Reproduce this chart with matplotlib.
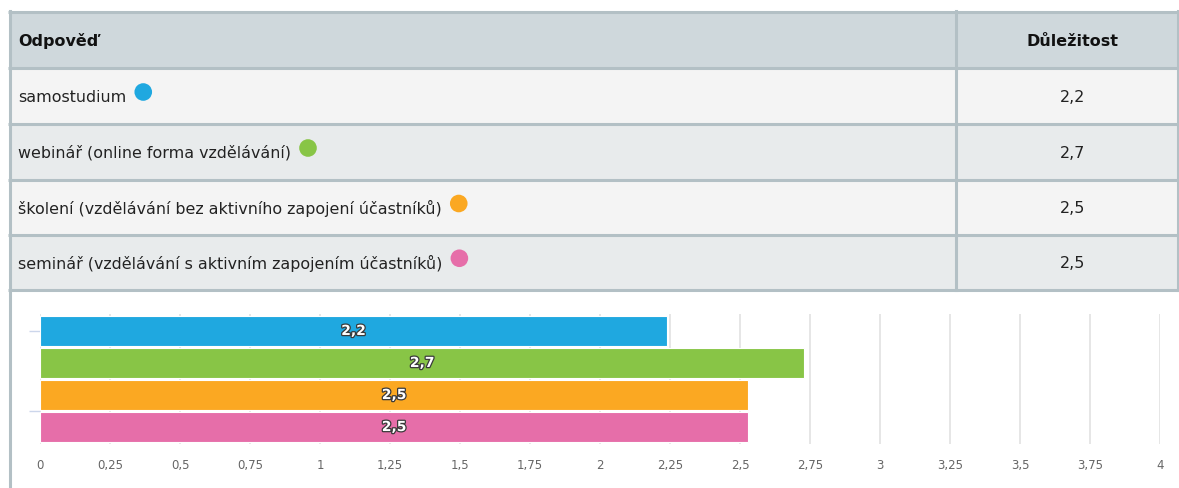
import matplotlib
matplotlib.use("Agg")
import matplotlib.pyplot as plt
from matplotlib.patches import Rectangle, Circle
import matplotlib.patheffects as pe
from matplotlib import font_manager

# data
answers = [
    "samostudium",
    "webinář (online forma vzdělávání)",
    "školení (vzdělávání bez aktivního zapojení účastníků)",
    "seminář (vzdělávání s aktivním zapojením účastníků)",
]
importance = [2.24, 2.73, 2.53, 2.53]
colors = ["#1fa8e0", "#88c546", "#fba822", "#e66ea9"]
x_ticks = [0, 0.25, 0.5, 0.75, 1, 1.25, 1.5, 1.75, 2, 2.25, 2.5, 2.75, 3, 3.25, 3.5, 3.75, 4]
header = ["Odpověď", "Důležitost"]

names = {f.name for f in font_manager.fontManager.ttflist}
fam = "Liberation Sans Narrow" if "Liberation Sans Narrow" in names else "DejaVu Sans"
plt.rcParams["font.family"] = [fam, "DejaVu Sans"]

def fmt(v):
    return ("%g" % v).replace(".", ",")

W, H = 1179, 488
fig = plt.figure(figsize=(W / 100, H / 100), dpi=100)
fig.patch.set_facecolor("white")

# background axes in pixel coords for the table
bg = fig.add_axes([0, 0, 1, 1])
bg.set_xlim(0, W)
bg.set_ylim(H, 0)
bg.axis("off")

border = "#b3c0c5"
lines_y = [12, 68, 124, 180, 235, 289.5]
row_bg = ["#cfd8dc", "#f4f4f4", "#e8ebec", "#f4f4f4", "#e8ebec"]
for i in range(5):
    bg.add_patch(Rectangle((9.5, lines_y[i]), 1168, lines_y[i + 1] - lines_y[i],
                           facecolor=row_bg[i], edgecolor="none", zorder=1))
for y in lines_y:
    bg.plot([8, 1179], [y, y], color=border, lw=2.2, zorder=2, solid_capstyle="butt")
bg.plot([9.5, 9.5], [11, H], color=border, lw=2.2, zorder=2)
bg.plot([956, 956], [11, 289.5], color=border, lw=2.2, zorder=2)
bg.plot([1177.5, 1177.5], [11, 289.5], color=border, lw=2.2, zorder=2)

val_x = 1073
bg.text(18, 41, header[0], fontsize=11.5, fontweight="bold", color="#111111",
        ha="left", va="center", zorder=3)
bg.text(val_x, 41, header[1], fontsize=11.5, fontweight="bold", color="#111111",
        ha="center", va="center", zorder=3)

labels = []
for i, (a, v) in enumerate(zip(answers, importance)):
    yc = (lines_y[i + 1] + lines_y[i + 2]) / 2 + 1
    t = bg.text(18, yc, a, fontsize=11.4, color="#222222", ha="left", va="center", zorder=3)
    labels.append((t, yc))
    bg.text(val_x, yc, fmt(round(v, 1)), fontsize=11.5, color="#222222",
            ha="center", va="center", zorder=3)

fig.canvas.draw()
r = fig.canvas.get_renderer()
for (t, yc), c in zip(labels, colors):
    bb = t.get_window_extent(renderer=r)
    x_end = bb.x1
    bg.add_patch(Circle((x_end + 17, yc - 5), 8.8, facecolor=c, edgecolor="none", zorder=3))

# bar chart
ax = fig.add_axes([40 / W, 1 - 444 / H, 1120 / W, 130 / H])
ax.set_facecolor("none")
ypos = list(range(len(importance)))
ax.barh(ypos, importance, height=0.94, color=colors, edgecolor="white", linewidth=0.8, zorder=3)
for y, v in zip(ypos, importance):
    ax.text(v / 2, y, fmt(round(v, 1)), ha="center", va="center", fontsize=10,
            fontweight="bold", color="white", zorder=4,
            path_effects=[pe.withStroke(linewidth=1.8, foreground="#3a3a3a")])
ax.set_xlim(0, 4)
ax.set_ylim(3.53, -0.53)
ax.set_xticks(x_ticks)
ax.set_xticklabels([fmt(x) for x in x_ticks])
ax.grid(axis="x", color="#e2e2e2", lw=1.2, zorder=0)
ax.set_yticks([0, 2.5])
ax.set_yticklabels([])
ax.tick_params(axis="y", length=8, color="#ccd6eb", width=1)
ax.tick_params(axis="x", length=0, pad=11, labelsize=8.5, labelcolor="#666666")
for s in ax.spines.values():
    s.set_visible(False)

fig.savefig("out.png", dpi=100)
